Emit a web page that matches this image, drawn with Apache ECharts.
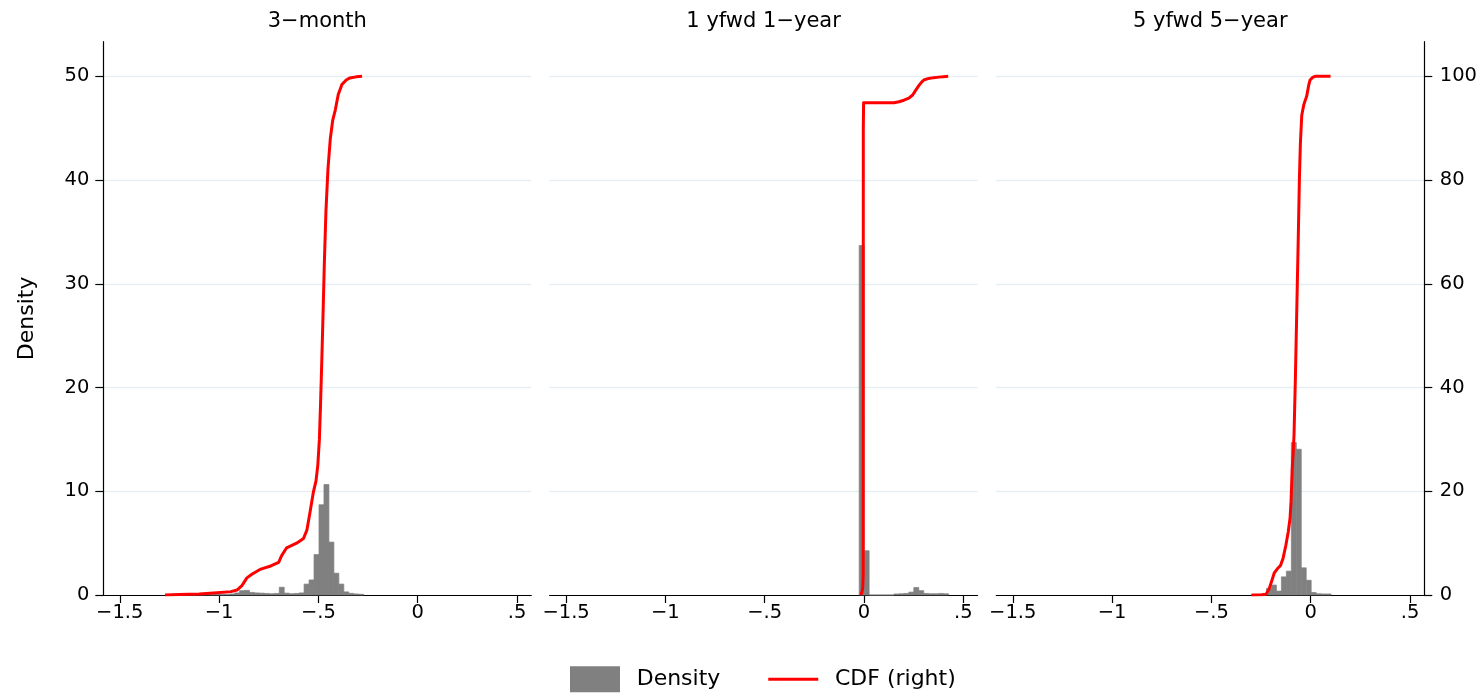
<!DOCTYPE html>
<html>
<head>
<meta charset="utf-8">
<script src="https://cdn.jsdelivr.net/npm/echarts@6/dist/echarts.min.js"></script>
<style>
html,body{margin:0;padding:0;background:#fff;}
#c{width:1481px;height:697px;}
</style>
</head>
<body>
<div id="c"></div>
<script>
// ---------------- data ----------------
const panelTitles = ['3\u2212month', '1 yfwd 1\u2212year', '5 yfwd 5\u2212year'];
const xTicks = [-1.5, -1, -0.5, 0, 0.5];
const xTickLabels = ['\u22121.5', '\u22121', '\u2212.5', '0', '.5'];
const densityTicks = [0, 10, 20, 30, 40, 50];
const cdfTicks = [0, 20, 40, 60, 80, 100];
const binWidth = 0.025;

// histogram: first bin edge and densities per bin
const hist3mStart = -1.272;
const hist3mDensity = [0.03, 0.02, 0.03, 0.04, 0.03, 0.03, 0.04, 0.04, 0.05, 0.04,
  0.06, 0.05, 0.07, 0.10, 0.20, 0.42, 0.45, 0.25, 0.20, 0.18,
  0.15, 0.12, 0.15, 0.75, 0.18, 0.12, 0.15, 0.20, 1.05, 1.45,
  3.90, 8.70, 10.65, 5.10, 2.10, 1.05, 0.30, 0.16, 0.10, 0.07];

const hist1y1yStart = -0.0242;
const hist1y1yDensity = [33.7, 4.27, 0, 0, 0, 0, 0, 0.10, 0.12, 0.15,
  0.28, 0.72, 0.42, 0.15, 0.12, 0.12, 0.15, 0.12];

const hist5y5yStart = -0.2975;
const hist5y5yDensity = [0.05, 0.05, 0.06, 0.64, 0.96, 0.38, 1.75, 2.30, 14.7, 14.05,
  2.62, 1.42, 0.24, 0.12, 0.10, 0.10];

// CDF in percent
const cdf3m = [[-1.272, 0], [-1.2, 0.1], [-1.1, 0.2], [-1.01, 0.45], [-0.94, 0.65], [-0.91, 0.95],
  [-0.885, 1.8], [-0.86, 3.3], [-0.835, 4.0], [-0.79, 5.0], [-0.74, 5.6], [-0.70, 6.3],
  [-0.685, 7.6], [-0.66, 9.1], [-0.61, 10.0], [-0.575, 10.9], [-0.558, 12.5], [-0.542, 16.0],
  [-0.525, 19.9], [-0.512, 22.0], [-0.503, 25.0], [-0.495, 30.0], [-0.489, 37.0], [-0.483, 45.0],
  [-0.476, 55.0], [-0.47, 64.0], [-0.462, 74.0], [-0.452, 82.0], [-0.44, 88.0], [-0.428, 91.5],
  [-0.415, 93.5], [-0.40, 96.5], [-0.382, 98.4], [-0.36, 99.3], [-0.341, 99.7], [-0.31, 99.9], [-0.28, 100]];

const cdf1y1y = [[-0.016, 0], [-0.01, 0.6], [-0.006, 1.5], [-0.004, 4.0], [-0.0035, 90.0], [-0.002, 94.9],
  [0.151, 94.9], [0.176, 95.1], [0.201, 95.4], [0.226, 95.8], [0.245, 96.4], [0.26, 97.3],
  [0.276, 98.2], [0.29, 98.9], [0.301, 99.3], [0.326, 99.6], [0.351, 99.75], [0.376, 99.85],
  [0.40, 99.93], [0.424, 100]];

const cdf5y5y = [[-0.2975, 0], [-0.247, 0.05], [-0.225, 0.15], [-0.209, 1.2], [-0.197, 2.6],
  [-0.184, 4.2], [-0.169, 5.0], [-0.152, 5.7], [-0.139, 7.1], [-0.125, 9.6], [-0.113, 12.2],
  [-0.104, 14.8], [-0.099, 18.0], [-0.096, 21.2], [-0.093, 24.4], [-0.088, 27.6], [-0.084, 30.8],
  [-0.077, 42.0], [-0.069, 57.0], [-0.062, 70.0], [-0.057, 80.0], [-0.052, 87.0], [-0.045, 92.5],
  [-0.035, 94.5], [-0.02, 96.2], [-0.01, 98.3], [-0.003, 99.3], [0.01, 99.8], [0.022, 100], [0.1, 100]];

// ---------------- build ----------------
const FONT = 'DejaVu Sans';
const histStarts = [hist3mStart, hist1y1yStart, hist5y5yStart];
const histDens = [hist3mDensity, hist1y1yDensity, hist5y5yDensity];
const cdfs = [cdf3m, cdf1y1y, cdf5y5y];

const gridLefts = [103.3, 549.6, 996.3];
const gridWidth = 428;
const gridTop = 41.7;
const gridHeight = 553.3;

function binsOf(start, dens) {
  return dens.map((h, k) => [start + k * binWidth, start + (k + 1) * binWidth, h]);
}
function xLabel(v) {
  for (let i = 0; i < xTicks.length; i++) {
    if (Math.abs(xTicks[i] - v) < 1e-9) return xTickLabels[i];
  }
  return '';
}

const grids = [], xAxes = [], yAxes = [], series = [], titles = [];
for (let i = 0; i < 3; i++) {
  grids.push({left: gridLefts[i], top: gridTop, width: gridWidth, height: gridHeight, containLabel: false});
  titles.push({
    text: panelTitles[i], left: gridLefts[i] + gridWidth / 2, top: 11, textAlign: 'center', padding: 0,
    textStyle: {fontSize: 21, fontWeight: 'normal', fontFamily: FONT, color: '#000'}
  });
  xAxes.push({
    type: 'value', gridIndex: i, min: -1.583, max: 0.572,
    axisLine: {show: true, onZero: false, lineStyle: {color: '#000', width: 1.2}},
    axisTick: {show: true, length: 8, customValues: xTicks, lineStyle: {color: '#000', width: 1.2}},
    axisLabel: {show: true, customValues: xTicks, formatter: xLabel, margin: 8,
      fontSize: 19.5, fontFamily: FONT, color: '#000'},
    splitLine: {show: false}
  });
  yAxes.push({
    type: 'value', gridIndex: i, position: 'left', min: 0, max: 53.34, interval: 10,
    name: i === 0 ? 'Density' : '', nameLocation: 'middle', nameGap: 65, nameRotate: 90,
    nameTextStyle: {fontSize: 22, fontFamily: FONT, color: '#000'},
    axisLine: {show: i === 0, onZero: false, lineStyle: {color: '#000', width: 1.2}},
    axisTick: {show: i === 0, length: 8, customValues: densityTicks, lineStyle: {color: '#000', width: 1.2}},
    axisLabel: {show: i === 0, customValues: densityTicks, margin: 14, fontSize: 19.5, fontFamily: FONT, color: '#000'},
    splitLine: {show: true, lineStyle: {color: '#e6eef2', width: 1.3}}
  });
  yAxes.push({
    type: 'value', gridIndex: i, position: 'right', min: 0, max: 106.68, interval: 20,
    axisLine: {show: i === 2, onZero: false, lineStyle: {color: '#000', width: 1.2}},
    axisTick: {show: i === 2, length: 8, customValues: cdfTicks, lineStyle: {color: '#000', width: 1.2}},
    axisLabel: {show: i === 2, customValues: cdfTicks, margin: 15.5, fontSize: 19.5, fontFamily: FONT, color: '#000'},
    splitLine: {show: false}
  });
  series.push({
    type: 'custom', name: 'Density', xAxisIndex: i, yAxisIndex: 2 * i,
    data: binsOf(histStarts[i], histDens[i]),
    encode: {x: [0, 1], y: 2},
    itemStyle: {color: '#808080'},
    silent: true, z: 2,
    renderItem: function (params, api) {
      const p0 = api.coord([api.value(0), api.value(2)]);
      const p1 = api.coord([api.value(1), 0]);
      return {
        type: 'rect',
        shape: {x: p0[0], y: p0[1], width: p1[0] - p0[0], height: p1[1] - p0[1]},
        style: {fill: '#808080', stroke: '#808080', lineWidth: 0.7}
      };
    }
  });
  series.push({
    type: 'line', name: 'CDF (right)', xAxisIndex: i, yAxisIndex: 2 * i + 1,
    data: cdfs[i], symbol: 'none', smooth: false,
    lineStyle: {color: '#ff0000', width: 3, join: 'round'},
    itemStyle: {color: '#ff0000'},
    silent: true, z: 3
  });
}

const chart = echarts.init(document.getElementById('c'), null, {renderer: 'canvas'});
chart.setOption({
  animation: false,
  backgroundColor: '#fff',
  title: titles,
  grid: grids,
  xAxis: xAxes,
  yAxis: yAxes,
  legend: {
    left: 570, top: 666.3, padding: 0, itemWidth: 50, itemHeight: 26, itemGap: 46.4,
    selectedMode: false,
    data: [
      {name: 'Density', icon: 'rect', itemStyle: {color: '#808080'}},
      {name: 'CDF (right)', itemStyle: {opacity: 0}, lineStyle: {color: '#ff0000', width: 3}}
    ],
    textStyle: {fontSize: 22, fontFamily: FONT, color: '#000', padding: [0, 0, 0, 11.7]}
  },
  series: series
});
</script>
</body>
</html>
